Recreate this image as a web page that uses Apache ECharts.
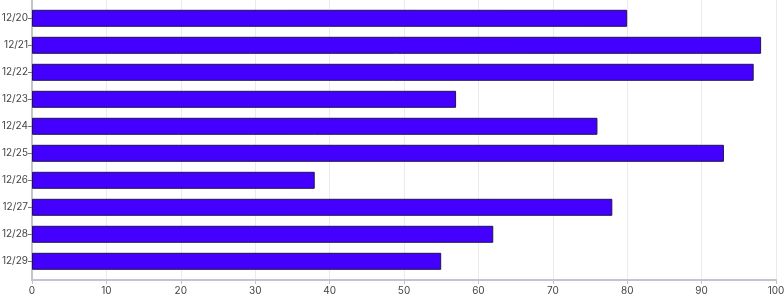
<!DOCTYPE html>
<html><head><meta charset="utf-8">
<script src="https://cdn.jsdelivr.net/npm/echarts@6/dist/echarts.min.js"></script>
<style>html,body{margin:0;padding:0;background:#fff}#c{width:784px;height:300px}</style>
</head><body><div id="c"></div>
<script>
const categories = ['12/20','12/21','12/22','12/23','12/24','12/25','12/26','12/27','12/28','12/29'];
const values = [80, 98, 97, 57, 76, 93, 38, 78, 62, 55];
const xTicks = [0,10,20,30,40,50,60,70,80,90,100];

const chart = echarts.init(document.getElementById('c'), null, {renderer:'canvas'});
const font = 'Inter, "Noto Sans", sans-serif';
chart.setOption({
  animation:false,
  backgroundColor:'#fff',
  grid:[
    {left:32, right:8, top:0, bottom:20, containLabel:false, outerBoundsMode:'none'},
    {left:32, right:8, top:4.8, bottom:25.2, containLabel:false, outerBoundsMode:'none'}
  ],
  xAxis:[
    {gridIndex:0, type:'value', min:xTicks[0], max:xTicks[xTicks.length-1], interval:10,
     axisLine:{show:true, lineStyle:{color:'#c4c4cc', width:2}},
     axisTick:{show:true, length:4, lineStyle:{color:'#c4c4cc'}},
     splitLine:{show:true, lineStyle:{color:'#ebebeb'}},
     axisLabel:{color:'#444', fontSize:10, fontFamily:font, margin:6}},
    {gridIndex:1, type:'value', min:0, max:100, show:false}
  ],
  yAxis:[
    {gridIndex:0, type:'value', min:0, max:1, 
     axisLine:{show:true, lineStyle:{color:'#c4c4cc', width:2}},
     axisTick:{show:false}, axisLabel:{show:false}, splitLine:{show:false}},
    {gridIndex:1, type:'category', inverse:true, data:categories,
     axisLine:{show:true, lineStyle:{color:'#c4c4cc', width:2}},
     axisTick:{show:true, alignWithLabel:true, length:4, lineStyle:{color:'#777'}},
     axisLabel:{color:'#444', fontSize:10, fontFamily:font, margin:4},
     splitLine:{show:false}}
  ],
  series:[{
    type:'bar', xAxisIndex:1, yAxisIndex:1, data:values, barWidth:17,
    itemStyle:{color:'#4400ff', borderColor:'#1f1450', borderWidth:1}
  }]
});
</script></body></html>
